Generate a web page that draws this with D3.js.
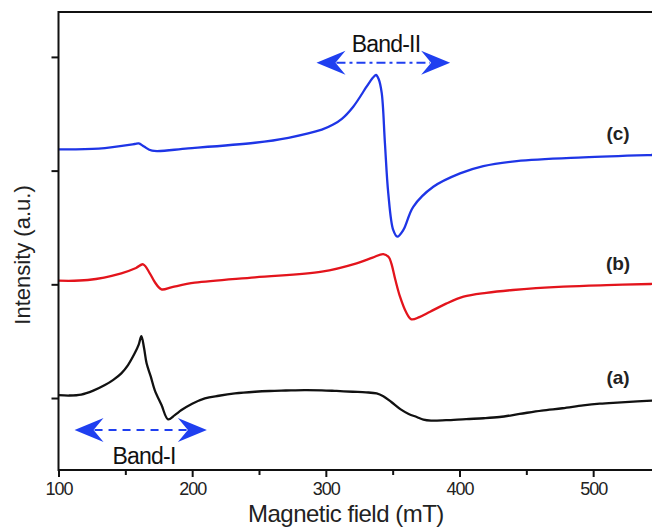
<!DOCTYPE html>
<html>
<head>
<meta charset="utf-8">
<script src="https://cdn.jsdelivr.net/npm/d3@7"></script>
<style>
  body { margin: 0; background: #fff; }
  text { font-family: "Liberation Sans", Arial, sans-serif; }
</style>
</head>
<body>
<script>
// field values (mT) and intensities (a.u.)
var fieldA = [100, 108, 117, 126, 134.7, 141, 147, 152, 157, 160, 162, 164, 165.9, 169, 172, 177, 182, 187, 192, 200, 209.5, 220, 232, 247, 258, 270, 284, 297, 308, 320, 330, 338, 343, 349, 356, 362, 368, 373, 378.7, 390, 405, 418, 430, 445, 461.5, 477, 492.5, 505, 518, 533, 550];
var curveA = [0.026, 0.022, 0.03, 0.065, 0.114, 0.16, 0.217, 0.29, 0.393, 0.47, 0.545, 0.44, 0.305, 0.19, 0.07, -0.06, -0.187, -0.15, -0.106, -0.05, -0.003, 0.02, 0.04, 0.055, 0.062, 0.066, 0.07, 0.068, 0.062, 0.055, 0.05, 0.04, 0.015, -0.035, -0.1, -0.14, -0.167, -0.19, -0.199, -0.195, -0.185, -0.178, -0.167, -0.14, -0.11, -0.09, -0.065, -0.05, -0.04, -0.03, -0.018];

var fieldB = [100, 122, 147, 158, 163.3, 168.3, 172, 177, 185, 202, 247, 297, 323, 335, 343, 347, 349, 352, 355.5, 360, 364, 370, 378, 390, 403, 420, 440, 477.7, 510, 543, 550];
var curveB = [1.032, 1.038, 1.097, 1.144, 1.176, 1.097, 1.02, 0.956, 0.976, 1.014, 1.062, 1.111, 1.185, 1.235, 1.266, 1.24, 1.185, 1.04, 0.891, 0.756, 0.692, 0.712, 0.759, 0.83, 0.891, 0.925, 0.95, 0.979, 0.993, 1.003, 1.004];

var fieldC = [100, 130, 157, 160, 164, 170, 197, 247, 272, 297, 305.5, 312, 320.5, 330.5, 335, 337.5, 339.5, 341.8, 344.2, 346.7, 350.4, 353.5, 358, 365.4, 380.4, 400.4, 417.8, 442.8, 492.7, 543, 550];
var curveC = [2.187, 2.194, 2.234, 2.24, 2.212, 2.175, 2.196, 2.245, 2.289, 2.36, 2.405, 2.455, 2.562, 2.738, 2.814, 2.841, 2.806, 2.683, 2.243, 1.803, 1.478, 1.419, 1.478, 1.682, 1.858, 1.976, 2.04, 2.084, 2.117, 2.137, 2.139];

var xTicks = [100, 200, 300, 400, 500];
var xMinor = [150, 250, 350, 450, 550];
var yTicks = [0, 1, 2, 3];
var seriesNames = ["(a)", "(b)", "(c)"];
var seriesColors = ["#111111", "#e3141c", "#1e35e6"];

var svg = d3.select("body").append("svg").attr("width", 652).attr("height", 529);

var x = d3.scaleLinear().domain([100, 550]).range([58.5, 660]);
var y = d3.scaleLinear().domain([-0.633, 3.395]).range([470, 12]);

var series = [
  {name: seriesNames[0], color: seriesColors[0], pts: d3.zip(fieldA, curveA), lx: 518.6, ly: 0.185},
  {name: seriesNames[1], color: seriesColors[1], pts: d3.zip(fieldB, curveB), lx: 518.6, ly: 1.187},
  {name: seriesNames[2], color: seriesColors[2], pts: d3.zip(fieldC, curveC), lx: 518.6, ly: 2.33}
];

var line = d3.line()
    .x(function(d) { return x(d[0]); })
    .y(function(d) { return y(d[1]); })
    .curve(d3.curveCatmullRom.alpha(0.5));

svg.selectAll("path.trace")
  .data(series)
  .enter().append("path")
    .attr("class", "trace")
    .attr("fill", "none")
    .attr("stroke", function(d) { return d.color; })
    .attr("stroke-width", 2.3)
    .attr("stroke-linejoin", "round")
    .attr("d", function(d) { return line(d.pts); });

// series labels
svg.selectAll("text.lab")
  .data(series)
  .enter().append("text")
    .attr("class", "lab")
    .attr("x", function(d) { return x(d.lx); })
    .attr("y", function(d) { return y(d.ly); })
    .attr("text-anchor", "middle")
    .attr("dy", "0.35em")
    .attr("font-size", 19)
    .attr("font-weight", "bold")
    .attr("fill", "#222")
    .text(function(d) { return d.name; });

// frame
svg.append("rect")
    .attr("x", x(100)).attr("y", y(3.395))
    .attr("width", x(550) - x(100)).attr("height", y(-0.633) - y(3.395))
    .attr("fill", "none").attr("stroke", "#111").attr("stroke-width", 2);

// x axis
var xAxis = svg.append("g")
    .attr("transform", "translate(0," + y(-0.633) + ")")
    .call(d3.axisBottom(x).tickValues(xTicks).tickSize(7).tickPadding(5).tickFormat(d3.format("d")));
xAxis.select(".domain").remove();
xAxis.selectAll("line").attr("stroke", "#111").attr("stroke-width", 2);
xAxis.selectAll("text").attr("font-size", 18).attr("fill", "#222")
    .attr("font-family", "Liberation Sans, Arial, sans-serif").attr("letter-spacing", "-1px");

svg.append("g")
    .attr("transform", "translate(0," + y(-0.633) + ")")
    .call(d3.axisBottom(x).tickValues(xMinor).tickSize(5).tickFormat(""))
  .call(function(g) { g.select(".domain").remove(); })
  .selectAll("line").attr("stroke", "#111").attr("stroke-width", 2);

// y axis, unlabeled ticks
var yAxis = svg.append("g")
    .attr("transform", "translate(" + x(100) + ",0)")
    .call(d3.axisLeft(y).tickValues(yTicks).tickSize(7).tickFormat(""));
yAxis.select(".domain").remove();
yAxis.selectAll("line").attr("stroke", "#111").attr("stroke-width", 2);

svg.append("text")
    .attr("x", x(315)).attr("y", 522)
    .attr("text-anchor", "middle")
    .attr("font-size", 24)
    .attr("fill", "#222")
    .attr("letter-spacing", "-0.5px")
    .text("Magnetic field (mT)");

svg.append("text")
    .attr("transform", "translate(30," + 255 + ") rotate(-90)")
    .attr("text-anchor", "middle")
    .attr("font-size", 22)
    .attr("fill", "#222")
    .text("Intensity (a.u.)");

// band annotations
function arrowHead(px, py, dir) {
  var L = 29, W = 12, n = 19;
  return "M" + px + "," + py +
    "L" + (px + dir * L) + "," + (py - W) +
    "L" + (px + dir * n) + "," + py +
    "L" + (px + dir * L) + "," + (py + W) + "Z";
}

var bands = [
  {name: "Band-I", x0: 112, x1: 211, yv: -0.281, tx: 164, ty: -0.58, dash: "8,6"},
  {name: "Band-II", x0: 293, x1: 393, yv: 2.949, tx: 345, ty: 3.043, dash: "9,4,3,4"}
];

bands.forEach(function(b) {
  var xa = x(b.x0), xb = x(b.x1), yy = y(b.yv);
  svg.append("line")
      .attr("x1", xa + 20).attr("x2", xb - 20)
      .attr("y1", yy).attr("y2", yy)
      .attr("stroke", "#1f3ff0").attr("stroke-width", 2)
      .attr("stroke-dasharray", b.dash);
  svg.append("path").attr("d", arrowHead(xa, yy, 1)).attr("fill", "#1f3ff0");
  svg.append("path").attr("d", arrowHead(xb, yy, -1)).attr("fill", "#1f3ff0");
  svg.append("text")
      .attr("x", x(b.tx)).attr("y", y(b.ty))
      .attr("text-anchor", "middle")
      .attr("font-size", 23)
      .attr("fill", "#111")
      .attr("letter-spacing", "-0.8px")
      .text(b.name);
});
</script>
</body>
</html>
